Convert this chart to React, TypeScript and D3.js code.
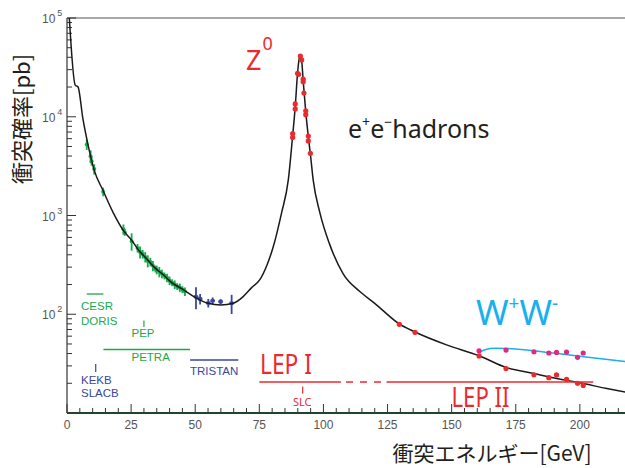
import React from "react";
import * as d3 from "d3";

// Theory curve e+e- -> hadrons
const curveE = [0.9, 3.2, 4.3, 6.2, 8.5, 10.6, 14.1, 18, 22.2, 25.2, 28.2, 31.1, 34.3, 37.6, 40.8, 44.7, 50, 55, 60, 64.8, 68.7, 72, 75.2, 78, 80.4, 83.7, 86.3, 88.0, 89.0, 89.9, 90.5, 91.0, 91.5, 92.1, 93.1, 94.1, 95.0, 96.0, 98.6, 102.4, 107.7, 114.2, 120, 129.7, 135.7, 148, 160.7, 171.4, 182, 194.8, 200, 210, 218];
const curveSigma = [100000, 20900, 20000, 9550, 4790, 2880, 1780, 1070, 692, 562, 437, 363, 295, 251, 209, 182, 148, 129, 124, 129, 151, 186, 224, 316, 479, 1070, 2290, 6460, 12600, 27500, 38000, 41700, 37200, 23400, 11200, 6310, 3980, 2290, 1070, 513, 257, 170, 129, 79.4, 66.1, 49, 38, 28.8, 25.1, 21.4, 20.2, 17.8, 16.2];

// WW curve
const wwCurveE = [160.5, 163, 167, 172, 180, 190, 200, 210, 218];
const wwCurveSigma = [40.7, 43.7, 45.2, 44.9, 43.2, 40.3, 37.6, 35.1, 33.1];

// Low energy data (CESR, DORIS, PEP, PETRA)
const greenE = [7.7, 9.2, 9.6, 10.6, 14.1, 22.0, 22.5, 25.2, 27.5, 28.5, 29.5, 30.5, 31.5, 32.5, 33.5, 34.5, 35.0, 36.0, 37.0, 38.0, 39.0, 40.0, 41.0, 42.0, 43.0, 44.0, 45.0, 46.0];
const greenSigma = [5250, 3980, 3550, 2950, 1740, 724, 676, 550, 468, 427, 407, 380, 347, 339, 309, 288, 282, 269, 257, 245, 234, 219, 209, 200, 191, 186, 178, 170];
const greenErr = [0.12, 0.15, 0.1, 0.12, 0.1, 0.12, 0.08, 0.2, 0.1, 0.14, 0.1, 0.12, 0.14, 0.1, 0.12, 0.08, 0.1, 0.12, 0.1, 0.08, 0.1, 0.1, 0.08, 0.1, 0.08, 0.1, 0.08, 0.1];

// TRISTAN data
const blueE = [50.3, 51.9, 55.1, 56.8, 59.9, 64.2];
const blueSigma = [150, 143, 130, 137, 134, 129];
const blueErr = [0.25, 0.12, 0.1, 0.08, 0.06, 0.22];

// LEP hadron data
const redE = [91.0, 91.5, 89.9, 90.3, 92.1, 92.1, 92.4, 89.0, 89.0, 93.1, 93.1, 88.0, 88.0, 94.1, 94.1, 94.9, 129.6, 135.7, 160.7, 171.2, 182.1, 187.9, 190.9, 194.8, 199.1, 201.3];
const redSigma = [41200, 37600, 27500, 26900, 24000, 22600, 17400, 13500, 12000, 11500, 10500, 6760, 6170, 6380, 5690, 4270, 79, 65.6, 37.8, 28.2, 24.4, 22.8, 24.3, 21.9, 20, 19];

// LEP WW data
const wwE = [160.7, 171.2, 182.1, 187.9, 190.9, 194.8, 199.1, 201.3];
const wwSigma = [42.7, 43.4, 41.7, 40.5, 41.1, 41.4, 36.6, 40.5];

const xMajorTicks = [0, 25, 50, 75, 100, 125, 150, 175, 200];
const yMajorTicks = [10, 100, 1000, 10000, 100000];
const yLabelExp = [2, 3, 4, 5];

const RED = "#ec2a2e";
const GREEN = "#17aa4c";
const BLUE = "#3a479e";
const CYAN = "#19b0ec";
const MAGENTA = "#e5287f";

export default function App() {
  const W = 625, H = 468;
  const x = d3.scaleLinear().domain([0, 217.6]).range([67, 625]);
  const y = d3.scaleLog().domain([10, 1e5]).range([413, 18]);
  const line = d3.line<[number, number]>().x(d => x(d[0])).y(d => y(d[1])).curve(d3.curveMonotoneX);

  const curve = line(curveE.map((e, i) => [e, curveSigma[i]]));
  const wwCurve = line(wwCurveE.map((e, i) => [e, wwCurveSigma[i]]));

  const xMinor = d3.range(0, 216, 5).filter(v => v % 25 !== 0);
  const yMinor: number[] = [];
  for (let k = 1; k < 5; k++) for (let m = 2; m <= 9; m++) yMinor.push(m * Math.pow(10, k));

  const tickFont = "'Liberation Sans', Arial, sans-serif";
  const sans = "'Noto Sans', 'Open Sans', sans-serif";
  const small = "'Liberation Sans', Arial, sans-serif";
  const cjk = "'Noto Sans CJK JP', sans-serif";

  return (
    <svg width={W} height={H} style={{ position: "absolute", left: 0, top: 0, background: "#fff" }}>
      <defs>
        <clipPath id="plot"><rect x={67} y={18} width={560} height={395} /></clipPath>
      </defs>
      {/* frame */}
      <line x1={67} x2={625} y1={18} y2={18} stroke="#555" strokeWidth={1} />
      <line x1={67} x2={67} y1={18} y2={413} stroke="#333" strokeWidth={1.2} />
      {/* y ticks */}
      {yMajorTicks.map(v => (
        <line key={"ym" + v} x1={67} x2={76} y1={y(v)} y2={y(v)} stroke="#333" strokeWidth={1} />
      ))}
      {yMinor.map(v => (
        <line key={"yn" + v} x1={67} x2={72} y1={y(v)} y2={y(v)} stroke="#333" strokeWidth={1} />
      ))}
      {yLabelExp.map(k => (
        <text key={"yl" + k} x={42} y={y(Math.pow(10, k)) + 5} fontFamily={tickFont} fontSize={12} fill="#555">
          10<tspan dx={2} dy={-7} fontSize={9}>{k}</tspan>
        </text>
      ))}
      {/* x axis */}
      {xMajorTicks.map(v => (
        <line key={"xm" + v} x1={x(v)} x2={x(v)} y1={413} y2={404} stroke="#333" strokeWidth={1} />
      ))}
      {xMinor.map(v => (
        <line key={"xn" + v} x1={x(v)} x2={x(v)} y1={413} y2={408} stroke="#333" strokeWidth={1} />
      ))}
      <line x1={67} x2={625} y1={413} y2={413} stroke="#22432f" strokeWidth={2} />
      {xMajorTicks.map(v => (
        <text key={"xl" + v} x={x(v)} y={429} textAnchor="middle" fontFamily={tickFont} fontSize={12} fill="#555">{v}</text>
      ))}

      {/* axis titles */}
      <text transform="translate(30,119) rotate(-90)" textAnchor="middle" fontFamily={cjk} fontSize={22} fill="#231f20">衝突確率[pb]</text>
      <text x={492} y={461} textAnchor="middle" fontFamily={cjk} fontSize={21} fill="#231f20">衝突エネルギー[GeV]</text>

      <g clipPath="url(#plot)">
        {/* green data */}
        {greenE.map((e, i) => (
          <g key={"g" + i}>
            <line x1={x(e)} x2={x(e)} y1={y(greenSigma[i] * (1 + greenErr[i]))} y2={y(greenSigma[i] * (1 - greenErr[i]))} stroke={GREEN} strokeWidth={1.8} />
            <circle cx={x(e)} cy={y(greenSigma[i])} r={2} fill={GREEN} />
          </g>
        ))}
        {/* blue data */}
        {blueE.map((e, i) => (
          <g key={"b" + i}>
            <line x1={x(e)} x2={x(e)} y1={y(blueSigma[i] * (1 + blueErr[i]))} y2={y(blueSigma[i] * (1 - blueErr[i]))} stroke={BLUE} strokeWidth={1.8} />
            <ellipse cx={x(e)} cy={y(blueSigma[i])} rx={2.5} ry={2.1} fill={BLUE} />
          </g>
        ))}
        {/* curves */}
        <path d={curve ?? ""} fill="none" stroke="#1a1a1a" strokeWidth={1.5} />
        <path d={wwCurve ?? ""} fill="none" stroke={CYAN} strokeWidth={1.5} />
        {/* red data */}
        {redE.map((e, i) => (
          <g key={"r" + i}>
            <line x1={x(e)} x2={x(e)} y1={y(redSigma[i] * 1.05)} y2={y(redSigma[i] * 0.95)} stroke={RED} strokeWidth={1.2} />
            <circle cx={x(e)} cy={y(redSigma[i])} r={2.6} fill={RED} />
          </g>
        ))}
        {wwE.map((e, i) => (
          <circle key={"w" + i} cx={x(e)} cy={y(wwSigma[i])} r={2.6} fill={MAGENTA} />
        ))}
      </g>

      {/* experiment labels */}
      <line x1={x(7.7)} x2={x(14.2)} y1={294} y2={294} stroke={GREEN} strokeWidth={1.3} />
      <text x={81} y={310} fontFamily={small} fontSize={11.5} fill={GREEN}>CESR</text>
      <text x={81} y={325} fontFamily={small} fontSize={11.5} fill={GREEN}>DORIS</text>
      <line x1={x(30)} x2={x(30)} y1={320.5} y2={327} stroke={GREEN} strokeWidth={1.2} />
      <text x={131.5} y={337} fontFamily={small} fontSize={11.5} fill={GREEN}>PEP</text>
      <line x1={x(14.2)} x2={x(48)} y1={349.5} y2={349.5} stroke={GREEN} strokeWidth={1.3} />
      <text x={131.5} y={361} fontFamily={small} fontSize={11.5} fill={GREEN}>PETRA</text>
      <line x1={x(11.2)} x2={x(11.2)} y1={364} y2={372} stroke={BLUE} strokeWidth={1.2} />
      <text x={81} y={383.5} fontFamily={small} fontSize={11.5} fill={BLUE}>KEKB</text>
      <text x={81} y={397} fontFamily={small} fontSize={11.5} fill={BLUE}>SLACB</text>
      <line x1={x(48)} x2={x(66.8)} y1={360} y2={360} stroke={BLUE} strokeWidth={1.3} />
      <text x={190} y={374.5} fontFamily={small} fontSize={11.5} fill={BLUE}>TRISTAN</text>

      {/* LEP */}
      <line x1={x(75)} x2={x(106.8)} y1={382} y2={382} stroke={RED} strokeWidth={1.4} />
      <line x1={x(108.8)} x2={x(123.5)} y1={382} y2={382} stroke={RED} strokeWidth={1.4} strokeDasharray="7 7" />
      <line x1={x(124.6)} x2={x(205.2)} y1={382} y2={382} stroke={RED} strokeWidth={1.4} />
      <text x={260} y={373.5} fontFamily={sans} fontSize={27} fill={RED} textLength={52} lengthAdjust="spacingAndGlyphs">LEP I</text>
      <text x={451.5} y={407} fontFamily={sans} fontSize={27} fill={RED} textLength={58} lengthAdjust="spacingAndGlyphs">LEP II</text>
      <line x1={x(91.9)} x2={x(91.9)} y1={386.5} y2={393.5} stroke={RED} strokeWidth={1.2} />
      <text x={293} y={406} fontFamily={sans} fontSize={11} fill={RED}>SLC</text>

      {/* Z0 */}
      <text x={246} y={70} fontFamily={sans} fontSize={27} fill={RED}>Z<tspan dx={1} dy={-20} fontSize={18}>0</tspan></text>
      {/* e+e- hadrons */}
      <text x={348} y={138} fontFamily={sans} fontSize={25} fill="#231f20">e<tspan dy={-11} fontSize={14}>+</tspan><tspan dy={11}>e</tspan><tspan dy={-11} fontSize={14}>−</tspan><tspan dy={11}>hadrons</tspan></text>
      {/* W+W- */}
      <text x={476} y={325} fontFamily={sans} fontSize={35} fill={CYAN}>W<tspan dy={-15} fontSize={19}>+</tspan><tspan dy={15}>W</tspan><tspan dy={-15} fontSize={19}>-</tspan></text>
    </svg>
  );
}
